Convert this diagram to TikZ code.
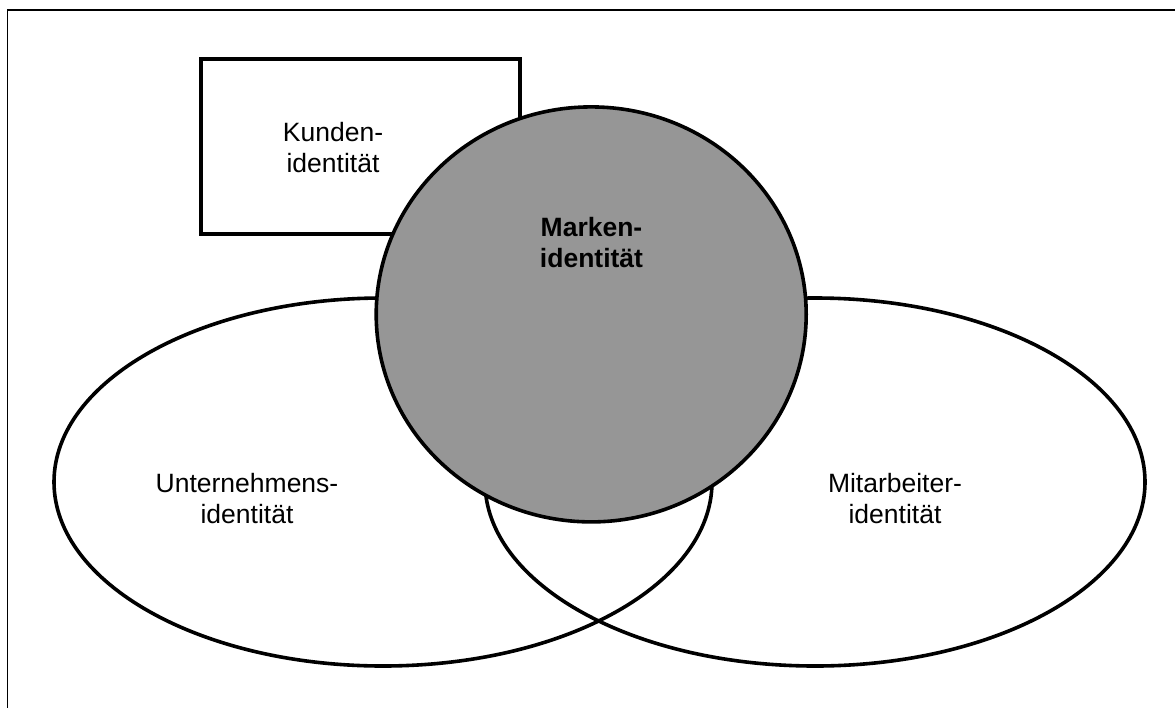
\documentclass[tikz,border=0pt]{standalone}
\usepackage{fontspec}
\setmainfont{Liberation Sans}
\usetikzlibrary{shapes.geometric}
\definecolor{markgray}{RGB}{150,150,150}
\begin{document}
\begin{tikzpicture}[x=1pt,y=-1pt,
  outline/.style={draw=black,line width=3.6pt,inner sep=0pt},
  lbl/.style={align=center,inner sep=0pt,font=\fontsize{26.5}{31}\selectfont}]
\useasboundingbox (0,0) rectangle (1175,707);
\fill[white] (0,0) rectangle (1175,707);
\draw[line width=1.5pt] (7.3,720) -- (7.3,10) -- (1190,10);
% Kunden box
\node[outline, rectangle, minimum width=319pt, minimum height=175pt] (kundenbox) at (360.5,146.5) {};
\node[lbl] (kunden) at (333,148) {Kunden-\\identität};
% ellipses
\node[outline, ellipse, minimum width=658pt, minimum height=368pt] (unternehmen) at (383,482) {};
\node[outline, ellipse, minimum width=660pt, minimum height=368pt] (mitarbeiter) at (815,482) {};
% brand circle
\node[outline, ellipse, fill=markgray, minimum width=430pt, minimum height=415pt] (marke) at (591.2,314.4) {};
\node[lbl, font=\fontsize{26.5}{31}\selectfont\bfseries] (markentext) at (591.5,243) {Marken-\\identität};
\node[lbl] (untext) at (247,499) {Unternehmens-\\identität};
\node[lbl] (mitext) at (895,499) {Mitarbeiter-\\identität};
\end{tikzpicture}
\end{document}
